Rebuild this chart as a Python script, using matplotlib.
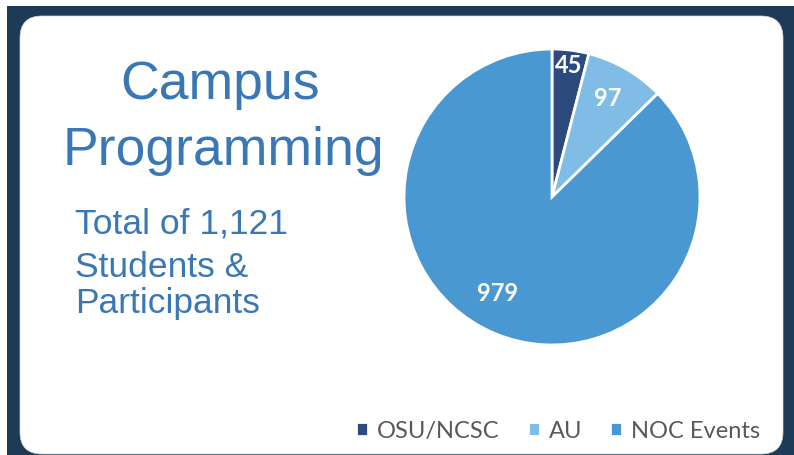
import matplotlib

matplotlib.use("Agg")
import matplotlib.pyplot as plt
import numpy as np
from matplotlib.patches import FancyBboxPatch, Rectangle

categories = ["OSU/NCSC", "AU", "NOC Events"]
counts = [45, 97, 979]
colors = ["#2d4a7c", "#7fbde6", "#4a98d2"]
title_lines = ["Campus", "Programming"]
subtitle_lines = ["Total of 1,121", "Students &", "Participants"]

W, H = 794, 456
fig = plt.figure(figsize=(W / 100, H / 100), dpi=100, facecolor="white")

# navy frame and white rounded card
fig.patches.append(Rectangle((7 / W, 0), 1, 1 - 7 / H, transform=fig.transFigure,
                             facecolor="#1d3a57", edgecolor="none", zorder=0))
card = FancyBboxPatch((0.20, 0.01), 7.63, 4.38,
                      boxstyle="round,pad=0,rounding_size=0.22",
                      transform=fig.dpi_scale_trans, facecolor="white",
                      edgecolor="#d5dae0", linewidth=0.5, zorder=1)
fig.patches.append(card)

text_blue = "#3a78b5"
for line, x, base in zip(title_lines, [220, 223], [99, 165]):
    fig.text(x / W, 1 - base / H, line, ha="center", va="baseline",
             fontsize=38.5, color=text_blue, family="Liberation Sans", zorder=3)
for line, base in zip(subtitle_lines, [234, 277, 313]):
    fig.text(75 / W, 1 - base / H, line, ha="left", va="baseline", fontsize=25.5,
             color=text_blue, family="Liberation Sans", zorder=3)

# pie: radius 148 px, centre (552, 198)
R = 148
ax = fig.add_axes([(552 - R) / W, (H - 198 - R) / H, 2 * R / W, 2 * R / H])
ax.set_zorder(4)
wedges, texts = ax.pie(counts, colors=colors, startangle=90, counterclock=False,
                       labels=[str(c) for c in counts], labeldistance=0.8,
                       wedgeprops=dict(edgecolor="white", linewidth=2))
ax.set_xlim(-1, 1)
ax.set_ylim(-1, 1)
ax.set_aspect("equal")
ax.axis("off")

# per-slice label placement
label_r = [0.9, 0.77, 0.74]
label_shift = [0, 1, -7]
for w, t, r, s in zip(wedges, texts, label_r, label_shift):
    ang = np.deg2rad((w.theta1 + w.theta2) / 2 + s)
    t.set_position((r * np.cos(ang), r * np.sin(ang)))
    t.set_ha("center")
    t.set_va("center")
    t.set_color("white")
    t.set_fontsize(17)
    t.set_family("Lato")
    t.set_fontweight("bold")

leg = fig.legend(wedges, categories, loc="center left", bbox_to_anchor=(356 / W, 1 - 432 / H),
                 ncol=3, frameon=False, handlelength=0.5, handleheight=0.5,
                 handletextpad=0.38, columnspacing=1.2, borderpad=0, borderaxespad=0,
                 prop=dict(family="Lato", size=17))
for t in leg.get_texts():
    t.set_color("#595959")
leg.set_zorder(5)

fig.savefig("out.png", dpi=100, facecolor="white")
